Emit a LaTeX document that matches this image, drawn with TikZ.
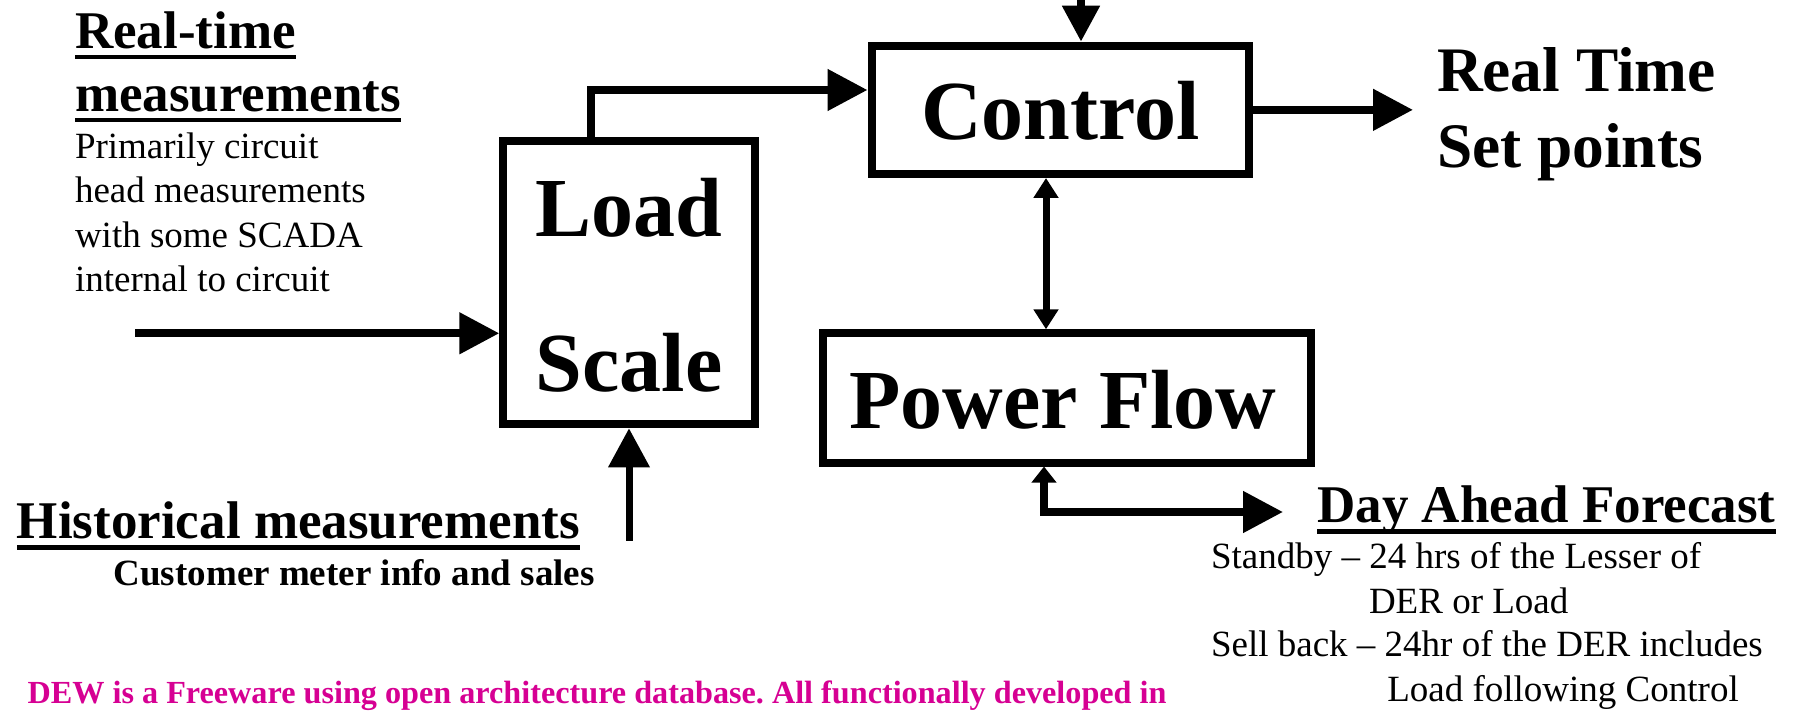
\documentclass[tikz,border=0pt]{standalone}
\usepackage{fontspec}
\setmainfont{Liberation Serif}
\usetikzlibrary{arrows.meta}
\definecolor{dewpink}{RGB}{214,0,147}
\frenchspacing
\tikzset{
 box/.style={draw, line width=4pt, inner sep=0pt},
 lbl/.style={inner sep=0pt, outer sep=0pt, anchor=base west},
 big/.style={font=\fontsize{42}{48}\selectfont\bfseries, inner sep=0pt, anchor=base},
 head/.style={lbl, font=\fontsize{26.5}{30}\selectfont\bfseries},
 body/.style={lbl, font=\fontsize{18.5}{22}\selectfont},
 bodyb/.style={lbl, font=\fontsize{18.5}{22}\selectfont\bfseries},
 side/.style={lbl, font=\fontsize{31.7}{36}\selectfont\bfseries},
 note/.style={lbl, font=\fontsize{16.1}{19}\selectfont\bfseries, text=dewpink},
 flow/.style={line width=4pt, -{Triangle[length=20pt,width=20pt]}},
 topflow/.style={line width=4pt, -{Triangle[length=18pt,width=18pt]}},
 flowthin/.style={line width=3.5pt, -{Triangle[length=19.5pt,width=20pt]}},
 both/.style={line width=3.5pt, {Triangle[length=10pt,width=12pt]}-{Triangle[length=10pt,width=12pt]}},
 mixed/.style={line width=4pt, {Triangle[length=8pt,width=12pt]}-{Triangle[length=20pt,width=20pt]}},
 uline/.style={line width=2.4pt},
}
\begin{document}
\begin{tikzpicture}[x=0.5pt,y=-0.5pt]
\useasboundingbox (0,0) rectangle (1799,711);
% boxes
\node[box, minimum width=126pt, minimum height=141.5pt] (Load) at (629.3,282.8) {};
\node[box, minimum width=188.9pt, minimum height=64.15pt] (Control) at (1060.4,109.85) {};
\node[box, minimum width=244pt, minimum height=64.6pt] (PF) at (1067.3,397.9) {};
% box texts
\node[big] (tload) at (629.3,236.7) {Load};
\node[big] (tscale) at (629.3,391.7) {Scale};
\node[big] (tcontrol) at (1060.5,140) {Control};
\node[big] (tpf) at (1063,428.3) {Power Flow};
% left texts
\node[head] (rt1) at (75,48.3) {Real-time};
\node[head] (rt2) at (75,111.7) {measurements};
\draw[uline] ([yshift=-4.4pt]rt1.base west) -- ([yshift=-4.4pt]rt1.base east);
\draw[uline] ([yshift=-4.2pt]rt2.base west) -- ([yshift=-4.2pt]rt2.base east);
\node[body] (p1) at (75,158.3) {Primarily circuit};
\node[body] (p2) at (75,203) {head measurements};
\node[body] (p3) at (75,247.5) {with some SCADA};
\node[body] (p4) at (75,291.7) {internal to circuit};
\node[head] (hist) at (17,538.3) {Historical measurements};
\draw[uline] ([yshift=-4.6pt]hist.base west) -- ([yshift=-4.6pt]hist.base east);
\node[bodyb] (cust) at (113.7,585) {Customer meter info and sales};
% right texts
\node[side] (set1) at (1437,91.7) {Real Time};
\node[side] (set2) at (1437,168) {Set points};
\node[head] (day) at (1317.3,522.3) {Day Ahead Forecast};
\draw[uline] ([yshift=-4.6pt]day.base west) -- ([yshift=-4.6pt]day.base east);
\node[body] (d1) at (1211,568.3) {Standby – 24 hrs of the Lesser of};
\node[body] (d2) at (1369,613.3) {DER or Load};
\node[body] (d3) at (1211,656.7) {Sell back – 24hr of the DER includes};
\node[body] (d4) at (1387.3,701.7) {Load following Control};
% note
\node[note] (dew) at (27.6,703.3) {DEW is a Freeware using open architecture database. All functionally developed in};
% connectors
\coordinate (rtin) at (135,333.3);
\draw[flow] (rtin) -- (rtin -| Load.west);
\coordinate (lc) at (591,90);
\draw[flow] (lc |- Load.north) |- (lc -| Control.west);
\coordinate (topin) at (1081,0);
\draw[topflow] (topin) -- (topin |- Control.north);
\coordinate (setpt) at (1413,109.85);
\draw[flow] (Control.east) -- (setpt);
\coordinate (dx) at (1046,250);
\draw[both] (dx |- Control.south) -- (dx |- PF.north);
\coordinate (histin) at (629,540.7);
\draw[flowthin] (histin) -- (histin |- Load.south);
\coordinate (pfx) at (1044,480);
\coordinate (dayend) at (1283,512);
\draw[mixed] (pfx |- PF.south) |- (dayend);
\end{tikzpicture}
\end{document}
